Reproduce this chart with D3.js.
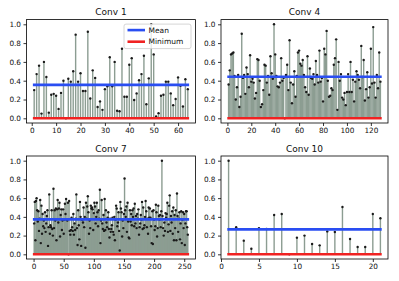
<!DOCTYPE html>
<html>
<head>
<meta charset="utf-8">
<script src="https://cdn.jsdelivr.net/npm/d3@7"></script>
<style>
  html, body { margin:0; padding:0; background:#fff }
  svg { display:block; font-family:"DejaVu Sans", sans-serif }
</style>
</head>
<body>
<svg id="chart" width="399" height="281"></svg>
<script>
// values, one array per layer
const titles = ['Conv 1', 'Conv 4', 'Conv 7', 'Conv 10']
const legendLabels = ['Mean', 'Minimum']

const conv1 = [0.30,0.47,0.56,0.05,0.60,0.44,0.06,0.25,0.26,0.24,0.10,0.27,0.40,0.00,0.42,0.39,
  0.50,0.89,0.39,0.48,0.29,0.29,0.92,0.21,0.51,0.43,0.12,0.18,0.09,0.31,0.34,0.65,
  0.34,0.60,0.08,0.075,0.74,0.23,0.23,0.57,0.64,0.195,0.265,0.405,0.47,0.665,0.15,0.425,
  1.00,0.68,0.02,0.055,0.24,0.25,0.39,0.39,0.265,0.14,0.205,0.435,0.345,0.125,0.415,0.31]

const conv4 = [0.36,0.51,0.68,0.69,0.70,0.45,0.20,0.33,0.46,0.12,0.23,0.90,0.43,0.46,0.26,0.54,
  0.47,0.33,0.67,0.39,0.42,0.38,0.21,0.27,0.63,0.62,0.40,0.12,0.15,0.30,0.57,0.56,
  0.38,0.45,0.25,0.66,0.48,0.42,1.00,0.68,0.45,0.34,0.33,0.38,0.64,0.40,0.43,0.00,
  0.46,0.57,0.30,0.83,0.38,0.16,0.36,0.50,0.23,0.45,0.70,0.72,0.58,0.56,0.62,0.46,
  0.33,0.28,0.66,0.25,0.53,0.43,0.42,0.47,0.36,0.61,0.46,0.38,0.72,0.39,0.43,0.18,
  0.74,0.68,0.93,0.40,0.23,0.24,0.32,0.30,0.57,0.64,0.84,0.09,0.60,0.40,0.47,0.22,
  0.20,0.27,0.14,0.28,0.47,0.28,0.60,0.28,0.41,0.18,0.39,0.50,0.46,0.41,0.32,0.77,
  0.44,0.62,0.19,0.31,0.49,0.22,0.33,0.74,0.37,0.97,0.38,0.22,0.46,0.32,0.70,0.39]

const conv7 = [0.33,0.56,0.15,0.57,0.60,0.47,0.35,0.46,0.25,0.38,0.58,0.12,0.52,0.22,0.43,0.30,
  0.36,0.28,0.45,0.24,0.33,0.41,0.47,0.09,0.29,0.64,0.22,0.31,0.29,0.47,0.27,0.20,
  0.70,0.28,0.47,0.36,0.49,0.15,0.48,0.58,0.34,0.49,0.55,0.19,0.42,0.48,0.26,0.36,
  0.48,0.22,0.37,0.54,0.43,0.59,0.37,0.36,0.55,0.00,0.57,0.25,0.21,0.26,0.39,0.29,
  0.25,0.43,0.21,0.33,0.26,0.38,0.64,0.28,0.10,0.47,0.31,0.16,0.56,0.40,0.09,0.37,
  0.37,0.34,0.50,0.29,0.40,0.07,0.55,0.38,0.51,0.62,0.45,0.22,0.36,0.28,0.52,0.49,
  0.50,0.48,0.26,0.44,0.55,0.51,0.33,0.40,0.55,0.45,0.30,0.47,0.38,0.69,0.12,0.36,
  0.58,0.33,0.27,0.42,0.25,0.59,0.26,0.47,0.34,0.29,0.39,0.45,0.27,0.18,0.38,0.24,
  0.27,0.31,0.39,0.24,0.21,0.40,0.15,0.37,0.52,0.49,0.30,0.34,0.45,0.25,0.04,0.56,
  0.49,0.45,0.19,0.36,0.28,0.43,0.81,0.47,0.40,0.51,0.24,0.55,0.35,0.18,0.17,0.47,
  0.35,0.43,0.31,0.47,0.40,0.49,0.30,0.54,0.33,0.41,0.28,0.43,0.38,0.48,0.21,0.29,
  0.33,0.42,0.37,0.56,0.27,0.50,0.28,0.31,0.40,0.57,0.46,0.29,0.38,0.22,0.50,0.39,
  0.49,0.39,0.30,0.12,0.46,0.11,0.47,0.37,0.26,0.30,0.53,0.45,0.19,0.28,0.52,0.41,
  0.37,0.42,0.29,0.46,1.00,0.41,0.28,0.20,0.34,0.25,0.44,0.39,0.43,0.55,0.24,0.32,
  0.52,0.63,0.25,0.41,0.34,0.46,0.22,0.50,0.15,0.42,0.28,0.47,0.15,0.65,0.41,0.24,
  0.38,0.45,0.16,0.33,0.46,0.12,0.37,0.45,0.28,0.43,0.10,0.33,0.46,0.46,0.29,0.21]

const conv10 = [1.00,0.29,0.146,0.06,0.28,0.27,0.42,0.43,0.00,0.178,0.20,0.11,0.096,0.245,0.238,0.505,
  0.164,0.078,0.078,0.43,0.385]

const xTicks1 = [0,10,20,30,40,50,60]
const xTicks4 = [0,20,40,60,80,100,120]
const xTicks7 = [0,50,100,150,200,250]
const xTicks10 = [0,5,10,15,20]
const yTicks = [0,0.2,0.4,0.6,0.8,1.0]

const stemColor = '#8c9d92'
const meanColor = '#2a4ef2'
const minColor = '#f02222'

// panel boxes [left, top, right, bottom] in px
const panels = [
  {title:titles[0], values:conv1, xticks:xTicks1, box:[26.5,19.6,195.5,123], legend:true},
  {title:titles[1], values:conv4, xticks:xTicks4, box:[221,19.6,388,123]},
  {title:titles[2], values:conv7, xticks:xTicks7, box:[26.5,156,195.5,259]},
  {title:titles[3], values:conv10, xticks:xTicks10, box:[221,156,388,259]}
]

const svg = d3.select('#chart')

panels.forEach(p=>{
  const [l,t,r,b] = p.box
  const n = p.values.length
  const pad = 0.05*(n-1)
  const x = d3.scaleLinear().domain([1-pad, n+pad]).range([l,r])
  const y = d3.scaleLinear().domain([-0.05,1.05]).range([b,t])
  const g = svg.append('g')
  const pts = p.values.map((v,i)=>({i:i+1, v}))

  // stems
  g.selectAll('.stem').data(pts).enter().append('line')
    .attr('x1', d=>x(d.i)).attr('x2', d=>x(d.i))
    .attr('y1', y(0)).attr('y2', d=>y(d.v))
    .attr('stroke', stemColor).attr('stroke-width', 1.4)

  g.selectAll('.dot').data(pts).enter().append('circle')
    .attr('cx', d=>x(d.i)).attr('cy', d=>y(d.v)).attr('r', 1.2)
    .attr('fill', '#1a1a1a')

  // mean + minimum lines
  const lines = [{v:d3.mean(p.values), c:meanColor}, {v:d3.min(p.values), c:minColor}]
  g.selectAll('.hl').data(lines).enter().append('line')
    .attr('x1', x(1)).attr('x2', x(n))
    .attr('y1', d=>y(d.v)).attr('y2', d=>y(d.v))
    .attr('stroke', d=>d.c).attr('stroke-width', 2.6).attr('stroke-linecap','square')

  // axes
  const xa = g.append('g').attr('transform', `translate(0,${b})`)
    .call(d3.axisBottom(x).tickValues(p.xticks).tickFormat(d3.format('d')).tickSize(3).tickPadding(2))
  const ya = g.append('g').attr('transform', `translate(${l},0)`)
    .call(d3.axisLeft(y).tickValues(yTicks).tickFormat(d3.format('.1f')).tickSize(3).tickPadding(2.5))
  ;[xa,ya].forEach(a=>{
    a.select('.domain').remove()
    a.selectAll('line').attr('stroke','#000').attr('stroke-width',0.8)
    a.selectAll('text').attr('font-size','7.3px').attr('fill','#111')
      .attr('font-family','"DejaVu Sans", sans-serif')
  })

  g.append('rect').attr('x',l).attr('y',t).attr('width',r-l).attr('height',b-t)
    .attr('fill','none').attr('stroke','#000').attr('stroke-width',0.8)

  g.append('text').attr('x',(l+r)/2).attr('y',t-4.5).attr('text-anchor','middle')
    .attr('font-size','9px').attr('fill','#111').text(p.title)

  if(p.legend){
    const lw = 67, lh = 24.5
    const lx = r-4.5-lw, ly = t+4.5
    const lg = g.append('g').attr('transform', `translate(${lx},${ly})`)
    lg.append('rect').attr('width',lw).attr('height',lh).attr('rx',2)
      .attr('fill','#fff').attr('fill-opacity',0.8).attr('stroke','#cccccc').attr('stroke-width',0.8)
    legendLabels.forEach((lab,k)=>{
      const yy = 6 + k*11.6
      lg.append('line').attr('x1',3.5).attr('x2',21).attr('y1',yy).attr('y2',yy)
        .attr('stroke', lines[k].c).attr('stroke-width',2.6)
      lg.append('text').attr('x',24.5).attr('y',yy).attr('dy','0.35em')
        .attr('font-size','7.5px').attr('fill','#111').text(lab)
    })
  }
})
</script>
</body>
</html>
